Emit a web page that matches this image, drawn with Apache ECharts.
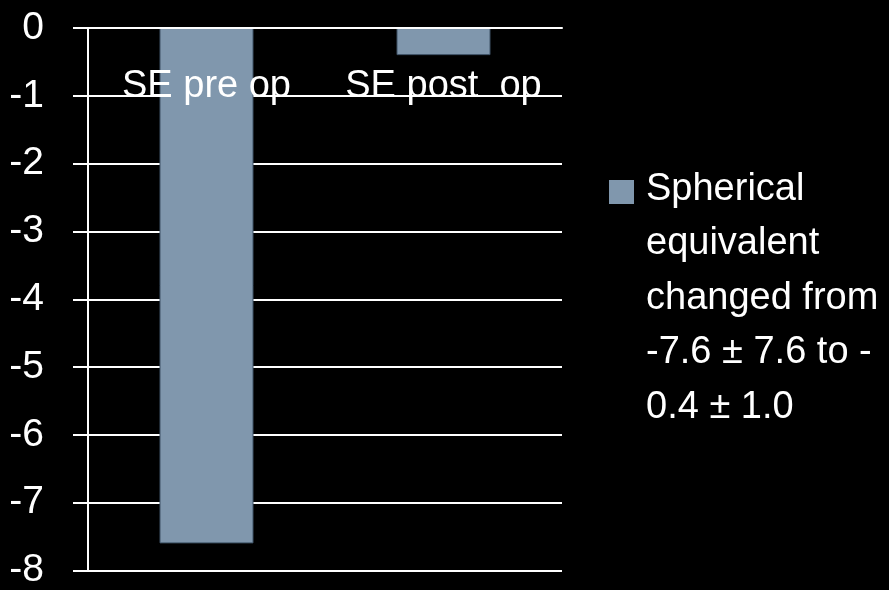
<!DOCTYPE html>
<html>
<head>
<meta charset="utf-8">
<script src="https://cdn.jsdelivr.net/npm/echarts@6/dist/echarts.min.js"></script>
<style>
  html, body { margin: 0; padding: 0; background: #000; }
  #chart { width: 889px; height: 590px; }
</style>
</head>
<body>
<div id="chart"></div>
<script>
// data
var categories = ['SE pre op', 'SE post  op']
var seValues = [-7.6, -0.4]
var seriesName = 'Spherical\nequivalent\nchanged from\n-7.6 \u00b1 7.6 to -\n0.4 \u00b1 1.0'
var yMin = -8
var yMax = 0

var chart = echarts.init(document.getElementById('chart'))
var font = '"Liberation Sans", Arial, sans-serif'
var barColor = '#8097ad'

chart.setOption({
  backgroundColor: '#000',
  animation: false,
  grid: {
    left: 88,
    right: 327,
    top: 28,
    bottom: 18
  },
  // legend drawn by hand so the swatch sits next to the first line
  graphic: [
    {
      type: 'rect',
      left: 609,
      top: 180,
      shape: { width: 25, height: 24 },
      style: { fill: barColor }
    },
    {
      type: 'text',
      left: 646,
      top: 162,
      style: {
        text: seriesName,
        fill: '#fff',
        fontSize: 38,
        fontFamily: font,
        lineHeight: 54.5
      }
    }
  ],
  xAxis: {
    type: 'category',
    position: 'top',
    data: categories,
    axisLine: { lineStyle: { color: '#fff', width: 2 } },
    axisTick: { inside: true, length: 14, lineStyle: { color: '#fff', width: 2 } },
    axisLabel: {
      inside: true,
      interval: 0,
      margin: 40,
      color: '#fff',
      fontSize: 38,
      fontFamily: font
    },
    z: 10
  },
  yAxis: {
    type: 'value',
    min: yMin,
    max: yMax,
    interval: 1,
    axisLine: { show: true, lineStyle: { color: '#fff', width: 2 } },
    axisTick: { show: true, length: 15, lineStyle: { color: '#fff', width: 2 } },
    splitLine: { lineStyle: { color: '#fff', width: 2 } },
    axisLabel: {
      margin: 44,
      color: '#fff',
      fontSize: 39,
      fontFamily: font
    }
  },
  series: [
    {
      name: seriesName,
      type: 'bar',
      data: seValues,
      barWidth: 94,
      itemStyle: {
        color: barColor,
        borderColor: '#3e5266',
        borderWidth: 1
      }
    }
  ]
})
</script>
</body>
</html>
